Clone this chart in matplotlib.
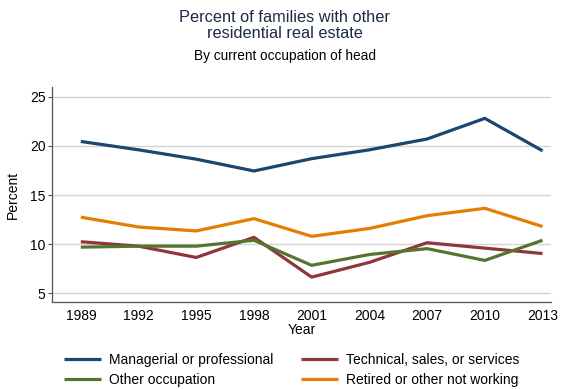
import numpy as np
import matplotlib.pyplot as plt

plt.rcParams['font.family'] = ['Liberation Sans', 'DejaVu Sans']

years = [1989, 1992, 1995, 1998, 2001, 2004, 2007, 2010, 2013]
managerial = [20.45, 19.6, 18.65, 17.45, 18.7, 19.6, 20.7, 22.8, 19.5]
technical = [10.25, 9.8, 8.65, 10.7, 6.65, 8.15, 10.15, 9.6, 9.05]
other_occ = [9.7, 9.8, 9.8, 10.4, 7.85, 8.95, 9.55, 8.35, 10.4]
retired = [12.75, 11.75, 11.35, 12.6, 10.8, 11.6, 12.9, 13.65, 11.8]

labels = ['Managerial or professional', 'Technical, sales, or services',
          'Other occupation', 'Retired or other not working']
colors = ['#1a476f', '#90353b', '#55752f', '#e37e00']

fig = plt.figure(figsize=(5.69, 3.89), dpi=100)
ax = fig.add_axes([0.092, 0.2244, 0.876, 0.5512])

series = [managerial, technical, other_occ, retired]
lines = []
for vals, lab, col in zip(series, labels, colors):
    ln, = ax.plot(years, vals, color=col, lw=2.3, label=lab, solid_capstyle='butt')
    lines.append(ln)

ax.set_xlim(1987.52, 2013.43)
ax.set_ylim(4.15, 25.96)
ax.set_xticks(years)
ax.set_yticks([5, 10, 15, 20, 25])
ax.yaxis.grid(True, color='#d4d4d4', lw=1)
ax.set_axisbelow(True)
for s in ['top', 'right']:
    ax.spines[s].set_visible(False)
for s in ['left', 'bottom']:
    ax.spines[s].set_color('#555555')
    ax.spines[s].set_linewidth(0.9)
ax.tick_params(axis='y', length=3, color='#555555', labelsize=10, pad=2)
ax.tick_params(axis='x', length=0, labelsize=10, pad=5)
ax.set_xlabel('Year', fontsize=10, labelpad=0)
ax.set_ylabel('Percent', fontsize=10, labelpad=7)

fig.text(0.5, 0.934, 'Percent of families with other\nresidential real estate',
         ha='center', va='center', fontsize=11.8, color='#1e2b45', linespacing=1.1)
fig.text(0.5, 0.856, 'By current occupation of head', ha='center', va='center',
         fontsize=9.8, color='black')

# matplotlib fills legend column-wise, so order handles to read row-wise
order = [0, 2, 1, 3]
fig.legend(handles=[lines[i] for i in order], loc='lower left',
           bbox_to_anchor=(0.105, -0.005), ncol=2,
           frameon=False, fontsize=10, handlelength=2.66, handletextpad=0.6,
           columnspacing=1.95, labelspacing=0.42, borderaxespad=0.0,
           borderpad=0.3)

fig.savefig('out.png', dpi=100)
